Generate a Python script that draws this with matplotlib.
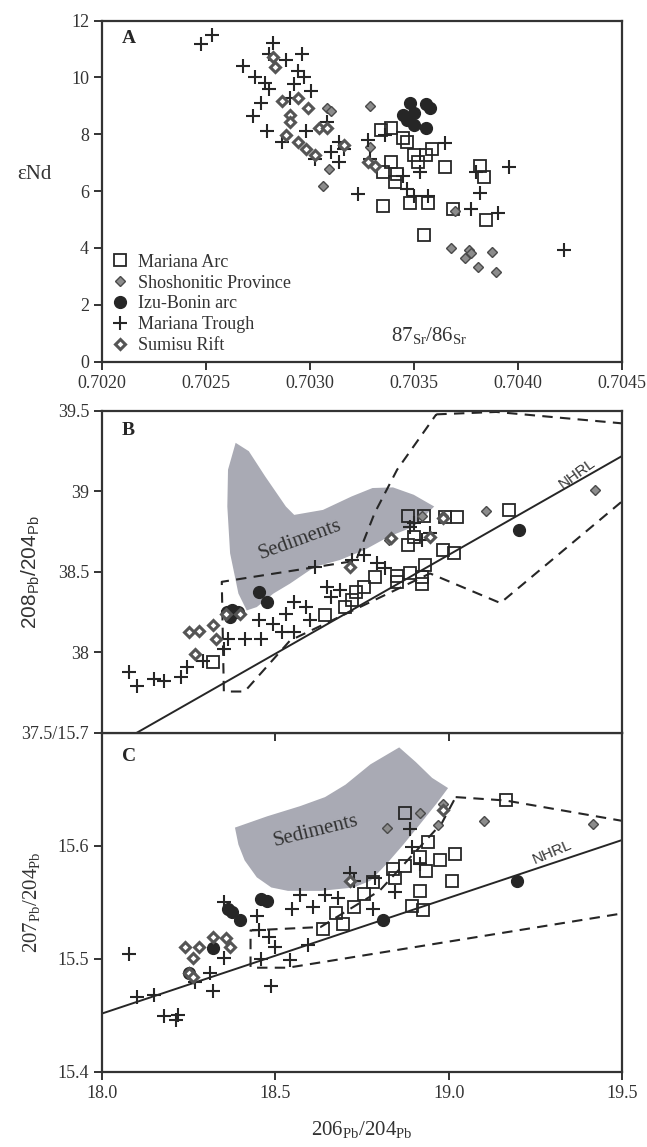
import matplotlib.pyplot as plt

plt.rcParams['font.family'] = ['Liberation Serif', 'DejaVu Serif']
plt.rcParams['mathtext.fontset'] = 'stix'

# ---------------- Panel A: eNd vs 87Sr/86Sr ----------------
a_arc_x = [0.703339, 0.703389, 0.703448, 0.703468, 0.703389, 0.703349, 0.703419, 0.703409,
           0.703498, 0.703518, 0.703558, 0.703587, 0.703647, 0.703349, 0.703478, 0.703567,
           0.703687, 0.703815, 0.703835, 0.703845, 0.703548]
a_arc_y = [8.15, 8.21, 7.86, 7.74, 7.02, 6.67, 6.61, 6.31, 7.26, 7.02, 7.26, 7.50, 6.85,
           5.48, 5.60, 5.60, 5.36, 6.90, 6.49, 5.00, 4.46]
a_shos_x = [0.703677, 0.703766, 0.703746, 0.703776, 0.703806, 0.703875, 0.703895, 0.703696,
            0.703081, 0.703101, 0.703062, 0.703091, 0.703290, 0.703290]
a_shos_y = [3.99, 3.93, 3.63, 3.81, 3.33, 3.87, 3.15, 5.30, 8.93, 8.81, 6.19, 6.79, 8.99, 7.56]
a_izu_x = [0.703478, 0.703448, 0.703468, 0.703498, 0.703557, 0.703577, 0.703557, 0.703498]
a_izu_y = [9.11, 8.69, 8.51, 8.33, 9.05, 8.93, 8.21, 8.75]
a_trough_x = [0.702476, 0.702530, 0.702675, 0.702734, 0.702784, 0.702804, 0.702823, 0.702804,
              0.702883, 0.702962, 0.702942, 0.702972, 0.703002, 0.702724, 0.702764, 0.702794,
              0.702863, 0.702903, 0.702923, 0.702982, 0.703022, 0.703081, 0.703101, 0.703141,
              0.703141, 0.703161, 0.703230, 0.703280, 0.703290, 0.703359, 0.703448, 0.703468,
              0.703498, 0.703528, 0.703567, 0.703647, 0.703796, 0.703815, 0.703776, 0.703905,
              0.703954, 0.704222]
a_trough_y = [11.19, 11.51, 10.42, 10.00, 9.82, 9.58, 11.21, 10.83, 10.60, 10.83, 10.24, 10.00,
              9.52, 8.63, 9.11, 8.10, 7.74, 9.29, 9.76, 8.10, 7.14, 8.45, 7.38, 7.02, 7.74, 7.50,
              5.89, 7.80, 7.14, 7.98, 6.55, 6.07, 5.83, 6.67, 5.83, 7.68, 6.67, 5.95, 5.36, 5.24,
              6.85, 3.93]
a_sum_x = [0.702863, 0.702903, 0.702942, 0.702992, 0.702883, 0.702942, 0.702982, 0.703022,
           0.703042, 0.703081, 0.702833, 0.702823, 0.702903, 0.703280, 0.703310, 0.703161]
a_sum_y = [9.17, 8.69, 9.29, 8.93, 7.98, 7.74, 7.50, 7.26, 8.21, 8.21, 10.36, 10.71, 8.45,
           7.02, 6.90, 7.62]
a_xticks = [0.7020, 0.7025, 0.7030, 0.7035, 0.7040, 0.7045]
a_xticklabels = ['0.7020', '0.7025', '0.7030', '0.7035', '0.7040', '0.7045']
a_yticks = [0, 2, 4, 6, 8, 10, 12]

# ---------------- Panel B: 208Pb/204Pb vs 206Pb/204Pb ----------------
b_sed_x = [18.385, 18.423, 18.470, 18.530, 18.554, 18.637, 18.720, 18.780, 18.839, 18.899,
           18.958, 18.899, 18.827, 18.756, 18.685, 18.613, 18.542, 18.494, 18.446, 18.417,
           18.393, 18.369, 18.361, 18.363]
b_sed_y = [39.302, 39.250, 39.094, 38.906, 38.854, 38.885, 38.969, 39.021, 39.025, 38.979,
           38.906, 38.781, 38.719, 38.635, 38.573, 38.531, 38.427, 38.365, 38.281, 38.260,
           38.365, 38.615, 38.906, 39.135]
b_field_x = [18.964, 19.137, 19.50, 19.50, 19.149, 18.946, 18.542, 18.411, 18.351, 18.345,
             18.732, 18.786, 18.851, 18.964]
b_field_y = [39.479, 39.494, 39.423, 38.938, 38.306, 38.490, 38.073, 37.756, 37.756, 38.438,
             38.569, 38.865, 39.135, 39.479]
b_nhrl_x = [18.10, 19.50]
b_nhrl_y = [37.50, 39.22]
b_arc_x = [18.881, 18.929, 18.988, 19.024, 19.175, 18.881, 18.899, 18.982, 19.015, 18.932,
           18.851, 18.887, 18.923, 18.923, 18.851, 18.786, 18.756, 18.732, 18.720, 18.702,
           18.643, 18.321]
b_arc_y = [38.844, 38.844, 38.840, 38.840, 38.885, 38.667, 38.719, 38.635, 38.615, 38.542,
           38.473, 38.490, 38.465, 38.427, 38.438, 38.469, 38.406, 38.375, 38.323, 38.281,
           38.229, 37.938]
b_shos_x = [18.923, 18.982, 19.107, 19.423, 18.827]
b_shos_y = [38.844, 38.844, 38.881, 39.006, 38.698]
b_izu_x = [18.452, 18.476, 18.360, 18.375, 18.393, 18.369, 19.202]
b_izu_y = [38.375, 38.313, 38.250, 38.260, 38.250, 38.220, 38.760]
b_sum_x = [18.250, 18.280, 18.268, 18.321, 18.327, 18.357, 18.399, 18.833, 18.946, 18.982,
           18.714]
b_sum_y = [38.125, 38.135, 37.990, 38.167, 38.083, 38.240, 38.240, 38.708, 38.719, 38.833,
           38.531]
b_trough_x = [18.077, 18.101, 18.149, 18.179, 18.226, 18.244, 18.292, 18.351, 18.363, 18.411,
              18.458, 18.452, 18.494, 18.518, 18.554, 18.530, 18.554, 18.589, 18.613, 18.649,
              18.661, 18.685, 18.720, 18.756, 18.792, 18.815, 18.887, 18.899, 18.923, 18.946,
              18.601]
b_trough_y = [37.875, 37.792, 37.833, 37.823, 37.844, 37.906, 37.948, 38.021, 38.083, 38.083,
              38.083, 38.198, 38.177, 38.125, 38.125, 38.240, 38.313, 38.281, 38.531, 38.406,
              38.344, 38.385, 38.573, 38.604, 38.552, 38.521, 38.781, 38.802, 38.698, 38.740,
              38.198]
b_yticks = [38, 38.5, 39, 39.5]
b_yticklabels = ['38', '38.5', '39', '39.5']

# ---------------- Panel C: 207Pb/204Pb vs 206Pb/204Pb ----------------
c_sed_x = [18.383, 18.476, 18.571, 18.643, 18.702, 18.774, 18.857, 18.905, 18.952, 18.998,
           18.964, 18.917, 18.869, 18.821, 18.774, 18.726, 18.631, 18.536, 18.488, 18.446,
           18.411, 18.393]
c_sed_y = [15.616, 15.626, 15.635, 15.643, 15.654, 15.672, 15.687, 15.674, 15.660, 15.651,
           15.637, 15.619, 15.601, 15.584, 15.569, 15.563, 15.560, 15.560, 15.563, 15.572,
           15.587, 15.601]
c_field_x = [19.02, 19.164, 19.50, 19.50, 18.536, 18.428, 18.428, 18.63, 18.80, 18.98, 19.02]
c_field_y = [15.643, 15.640, 15.622, 15.540, 15.492, 15.492, 15.525, 15.528, 15.560, 15.620,
             15.643]
c_nhrl_x = [18.0, 19.5]
c_nhrl_y = [15.4515, 15.605]
c_arc_x = [18.875, 18.940, 19.018, 18.976, 18.917, 18.935, 18.875, 18.839, 18.845, 19.010,
           19.164, 18.917, 18.893, 18.926, 18.780, 18.756, 18.726, 18.676, 18.696, 18.637]
c_arc_y = [15.629, 15.603, 15.593, 15.587, 15.590, 15.578, 15.582, 15.579, 15.571, 15.569,
           15.640, 15.560, 15.547, 15.543, 15.568, 15.557, 15.546, 15.540, 15.531, 15.526]
c_shos_x = [18.821, 18.917, 18.982, 19.101, 18.970, 19.417]
c_shos_y = [15.616, 15.629, 15.637, 15.622, 15.618, 15.619]
c_izu_x = [18.363, 18.375, 18.399, 18.458, 18.476, 18.321, 18.810, 19.196, 18.250]
c_izu_y = [15.544, 15.541, 15.534, 15.553, 15.551, 15.509, 15.534, 15.569, 15.487]
c_sum_x = [18.238, 18.280, 18.262, 18.321, 18.357, 18.369, 18.250, 18.262, 18.714, 18.982]
c_sum_y = [15.510, 15.510, 15.501, 15.519, 15.518, 15.510, 15.487, 15.484, 15.569, 15.632]
c_trough_x = [18.077, 18.101, 18.149, 18.179, 18.220, 18.214, 18.321, 18.310, 18.268, 18.351,
              18.446, 18.351, 18.458, 18.488, 18.482, 18.500, 18.542, 18.548, 18.571, 18.607,
              18.643, 18.679, 18.714, 18.726, 18.780, 18.786, 18.845, 18.893, 18.887, 18.917,
              18.595, 18.452]
c_trough_y = [15.504, 15.466, 15.468, 15.449, 15.450, 15.446, 15.471, 15.487, 15.479, 15.550,
              15.538, 15.501, 15.500, 15.476, 15.519, 15.510, 15.499, 15.544, 15.556, 15.546,
              15.556, 15.554, 15.576, 15.569, 15.544, 15.571, 15.559, 15.599, 15.615, 15.584,
              15.512, 15.525]
c_yticks = [15.4, 15.5, 15.6, 15.7]
c_yticklabels = ['15.4', '15.5', '15.6', '37.5/15.7']
pb_xticks = [18.0, 18.5, 19.0, 19.5]
pb_xticklabels = ['18.0', '18.5', '19.0', '19.5']

legend_labels = ['Mariana Arc', 'Shoshonitic Province', 'Izu-Bonin arc', 'Mariana Trough',
                 'Sumisu Rift']

ink = '#262626'
arc_style = dict(ls='none', marker='s', mfc='none', mec=ink, ms=8.5, mew=1.3)
shos_style = dict(ls='none', marker='D', mfc='#8c8c8c', mec='#4a4a4a', ms=5.5, mew=1.0)
izu_style = dict(ls='none', marker='o', mfc=ink, mec=ink, ms=8.5)
trough_style = dict(ls='none', marker='+', color=ink, ms=10, mew=1.5)
sum_style = dict(ls='none', marker='D', mfc='white', mec='#555555', ms=5, mew=2.2)

fig = plt.figure(figsize=(6.47, 11.47), dpi=100)
axA = fig.add_axes([0.158, 0.6847, 0.8034, 0.2973])
axB = fig.add_axes([0.158, 0.3612, 0.8034, 0.2805])
axC = fig.add_axes([0.158, 0.0657, 0.8034, 0.2955])

for ax in (axA, axB, axC):
    for s in ax.spines.values():
        s.set_linewidth(1.6)
        s.set_color('#333333')
    ax.tick_params(direction='out', length=6, width=1.4, color='#333333',
                   labelsize=13, labelcolor='#333333')

# Panel A
axA.plot(a_arc_x, a_arc_y, label=legend_labels[0], **arc_style)
axA.plot(a_shos_x, a_shos_y, label=legend_labels[1], **shos_style)
axA.plot(a_izu_x, a_izu_y, label=legend_labels[2], **izu_style)
axA.plot(a_trough_x, a_trough_y, label=legend_labels[3], **trough_style)
axA.plot(a_sum_x, a_sum_y, label=legend_labels[4], **sum_style)
axA.set_xlim(0.7020, 0.7045)
axA.set_ylim(0, 12)
axA.set_xticks(a_xticks)
axA.set_xticklabels(a_xticklabels)
axA.set_yticks(a_yticks)
axA.text(0.038, 0.947, 'A', transform=axA.transAxes, fontsize=14, fontweight='bold',
         ha='left', va='center', color=ink)
axA.text(0.70357, 0.55, r'$\mathregular{87_{Sr}/86_{Sr}}$', fontsize=15,
         ha='center', va='bottom', color='#333333')
axA.text(-0.13, 0.55, 'εNd', transform=axA.transAxes, fontsize=15, ha='center',
         va='center', color='#333333')
axA.legend(loc='lower left', frameon=False, fontsize=13, handletextpad=0.4,
           labelspacing=0.22, borderaxespad=0.1, borderpad=0.3, handlelength=1.2,
           labelcolor='#333333')

# Panel B (drawn above C so its outward bottom ticks show on C's top edge)
axB.set_zorder(2)
axB.fill(b_sed_x, b_sed_y, color='#a9aab4', lw=0, zorder=1)
axB.plot(b_field_x, b_field_y, ls=(0, (5, 3.5)), color=ink, lw=1.5, zorder=2)
axB.plot(b_nhrl_x, b_nhrl_y, color=ink, lw=1.4, zorder=2)
axB.plot(b_arc_x, b_arc_y, zorder=3, **arc_style)
axB.plot(b_shos_x, b_shos_y, zorder=3, **shos_style)
axB.plot(b_izu_x, b_izu_y, zorder=3, **izu_style)
axB.plot(b_trough_x, b_trough_y, zorder=3, **trough_style)
axB.plot(b_sum_x, b_sum_y, zorder=3, **sum_style)
axB.set_xlim(18.0, 19.5)
axB.set_ylim(37.5, 39.5)
axB.set_xticks(pb_xticks[1:3])
axB.tick_params(axis='x', labelbottom=False)
axB.set_yticks(b_yticks)
axB.set_yticklabels(b_yticklabels)
axB.text(0.038, 0.94, 'B', transform=axB.transAxes, fontsize=14, fontweight='bold',
         ha='left', va='center', color=ink)
axB.text(18.57, 38.70, 'Sediments', fontsize=15, rotation=20, ha='center', va='center',
         color='#333333')
axB.text(19.37, 39.11, 'NHRL', family=['Liberation Sans'], fontsize=11, rotation=36,
         ha='center', va='center', color='#333333')
axB.set_ylabel(r'$\mathregular{208_{Pb}/204_{Pb}}$', fontsize=15, color='#333333',
               family=['Liberation Sans'])
axB.yaxis.set_label_coords(-0.115, 0.5)

# Panel C
axC.fill(c_sed_x, c_sed_y, color='#a9aab4', lw=0, zorder=1)
axC.plot(c_field_x, c_field_y, ls=(0, (5, 3.5)), color=ink, lw=1.5, zorder=2)
axC.plot(c_nhrl_x, c_nhrl_y, color=ink, lw=1.4, zorder=2)
axC.plot(c_arc_x, c_arc_y, zorder=3, **arc_style)
axC.plot(c_shos_x, c_shos_y, zorder=3, **shos_style)
axC.plot(c_izu_x, c_izu_y, zorder=3, **izu_style)
axC.plot(c_trough_x, c_trough_y, zorder=3, **trough_style)
axC.plot(c_sum_x, c_sum_y, zorder=3, **sum_style)
axC.set_xlim(18.0, 19.5)
axC.set_ylim(15.4, 15.7)
axC.set_xticks(pb_xticks)
axC.set_xticklabels(pb_xticklabels)
axC.set_yticks(c_yticks)
axC.set_yticklabels(c_yticklabels)
axC.text(0.038, 0.93, 'C', transform=axC.transAxes, fontsize=14, fontweight='bold',
         ha='left', va='center', color=ink)
axC.text(18.615, 15.613, 'Sediments', fontsize=15, rotation=14, ha='center', va='center',
         color='#333333')
axC.text(19.30, 15.594, 'NHRL', family=['Liberation Sans'], fontsize=11, rotation=23,
         ha='center', va='center', color='#333333')
axC.set_ylabel(r'$\mathregular{207_{Pb}/204_{Pb}}$', fontsize=15, color='#333333')
axC.yaxis.set_label_coords(-0.115, 0.5)
axC.set_xlabel(r'$\mathregular{206_{Pb}/204_{Pb}}$', fontsize=15, color='#333333',
               labelpad=12)

fig.savefig('out.png', dpi=100)
